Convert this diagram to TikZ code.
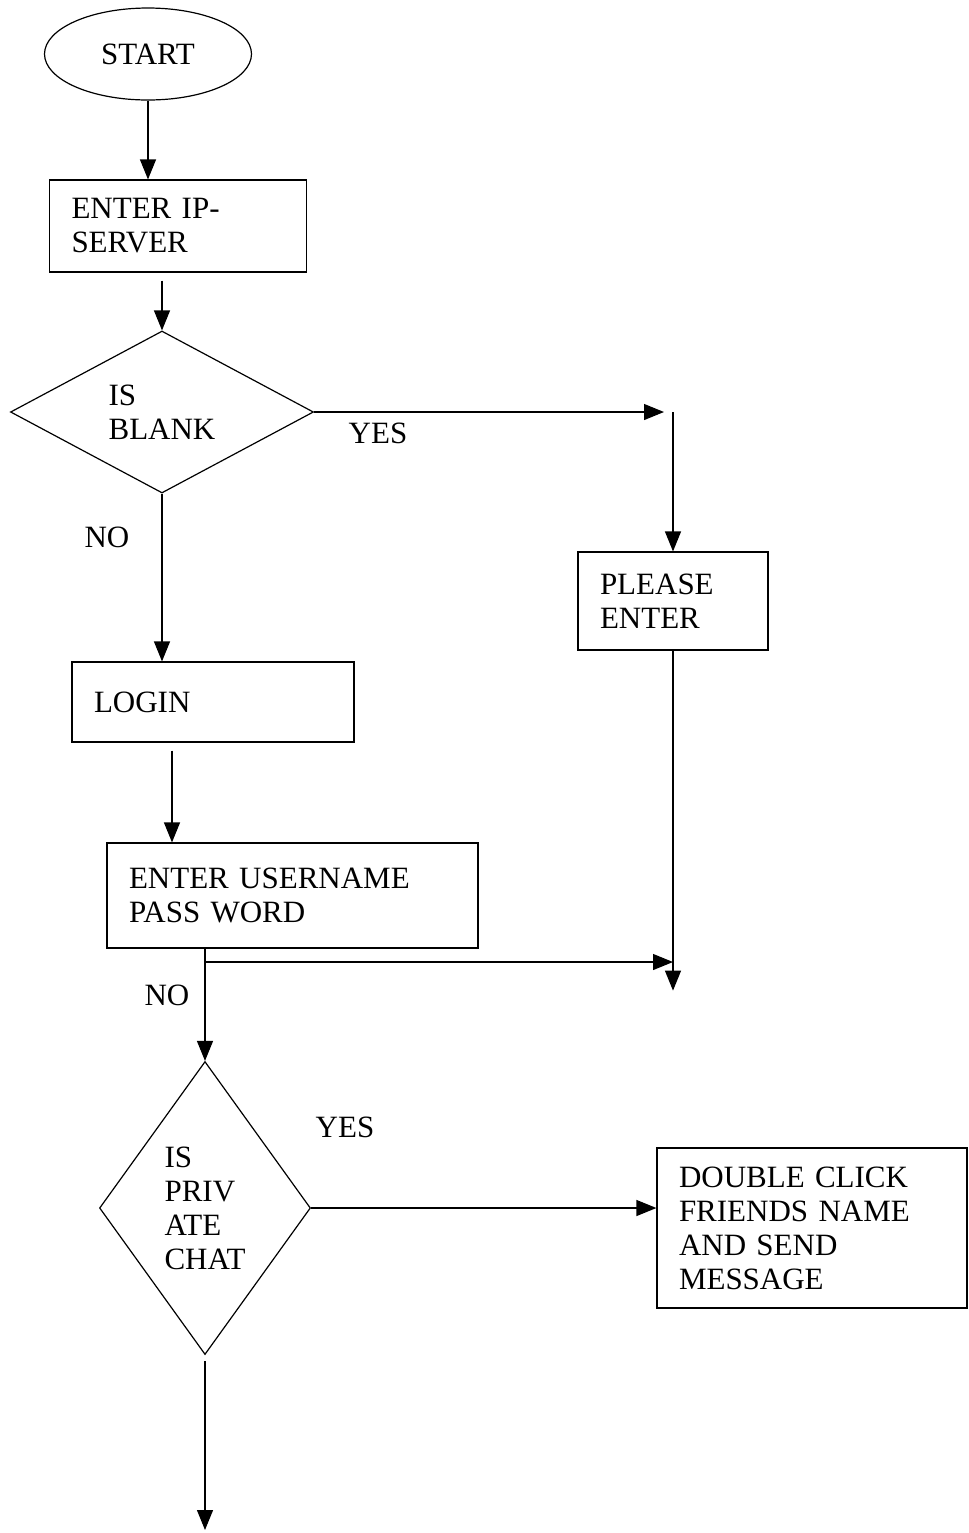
\documentclass[tikz,border=0pt]{standalone}
\usepackage{fontspec}
\setmainfont{Liberation Serif}
\usetikzlibrary{shapes.geometric,arrows.meta,positioning,calc}

\begin{document}
\begin{tikzpicture}[x=0.5pt,y=-0.5pt,line width=0.6pt,
    every node/.style={font=\fontsize{15.5}{17}\selectfont},
    box/.style={draw,rectangle,align=left,inner xsep=11pt,inner ysep=0pt},
    dec/.style={draw,diamond,align=left,inner sep=0pt},
    arr/.style={-{Triangle[length=10pt,width=8pt]}}]
    \useasboundingbox (0,0) rectangle (969,1533);
    % Steps of the login chart
    \node[draw,ellipse,minimum width=103.5pt,minimum height=46pt] (start) at (148,54) {START};
    \node[box,text width=106.5pt,minimum height=46pt] (ip) at (178,226) {ENTER IP-\\SERVER};
    \node[dec,minimum width=151.5pt,minimum height=81pt] (blank) at (162,412) {IS\\BLANK};
    \node[box,text width=73pt,minimum height=49pt] (please) at (673,601) {PLEASE\\ENTER};
    \node[box,text width=119pt,minimum height=40pt] (login) at (213,702) {LOGIN};
    \node[box,text width=163.5pt,minimum height=52.5pt] (user) at (292.5,895.5) {ENTER USERNAME\\PASS WORD};
    \node[dec,minimum width=105.5pt,minimum height=146.5pt] (chat) at (205,1208) {IS\\PRIV\\ATE\\CHAT};
    \node[box,text width=133pt,minimum height=80pt] (dbl) at (812,1228) {DOUBLE CLICK\\FRIENDS NAME\\AND SEND\\MESSAGE};
    % Branch labels
    \node (yesA) at (378,433) {YES};
    \node (noA) at (107,537) {NO};
    \node (noB) at (167,995) {NO};
    \node (yesB) at (345,1127) {YES};
    % Free ends of the connectors
    \coordinate (turn) at (664,412);
    \coordinate (lo) at ($(login.south)+(-41,8)$);
    \coordinate (merge) at (chat.north |- 0,962);
    \coordinate (pe) at ($(please.south)+(0,340)$);
    \coordinate (fin) at (chat.south |- 0,1530);
    % Arrows
    \draw[arr] (start.south) -- (start.south |- ip.north);
    \draw[arr,shorten <=4pt] (blank.north |- ip.south) -- (blank.north);
    \draw[arr] (blank.east) -- (turn);
    \draw[arr] (please.north |- turn) -- (please.north);
    \draw[arr] (blank.south) -- (blank.south |- login.north);
    \draw[arr] (lo) -- (lo |- user.north);
    \draw[arr] (please.south) -- (pe);
    \draw[arr] (chat.north |- user.south) -- (chat.north);
    \draw[arr] (merge) -- (merge -| pe);
    \draw[arr] (chat.east) -- (chat.east -| dbl.west);
    \draw[arr,shorten <=3pt] (chat.south) -- (fin);
\end{tikzpicture}
\end{document}
